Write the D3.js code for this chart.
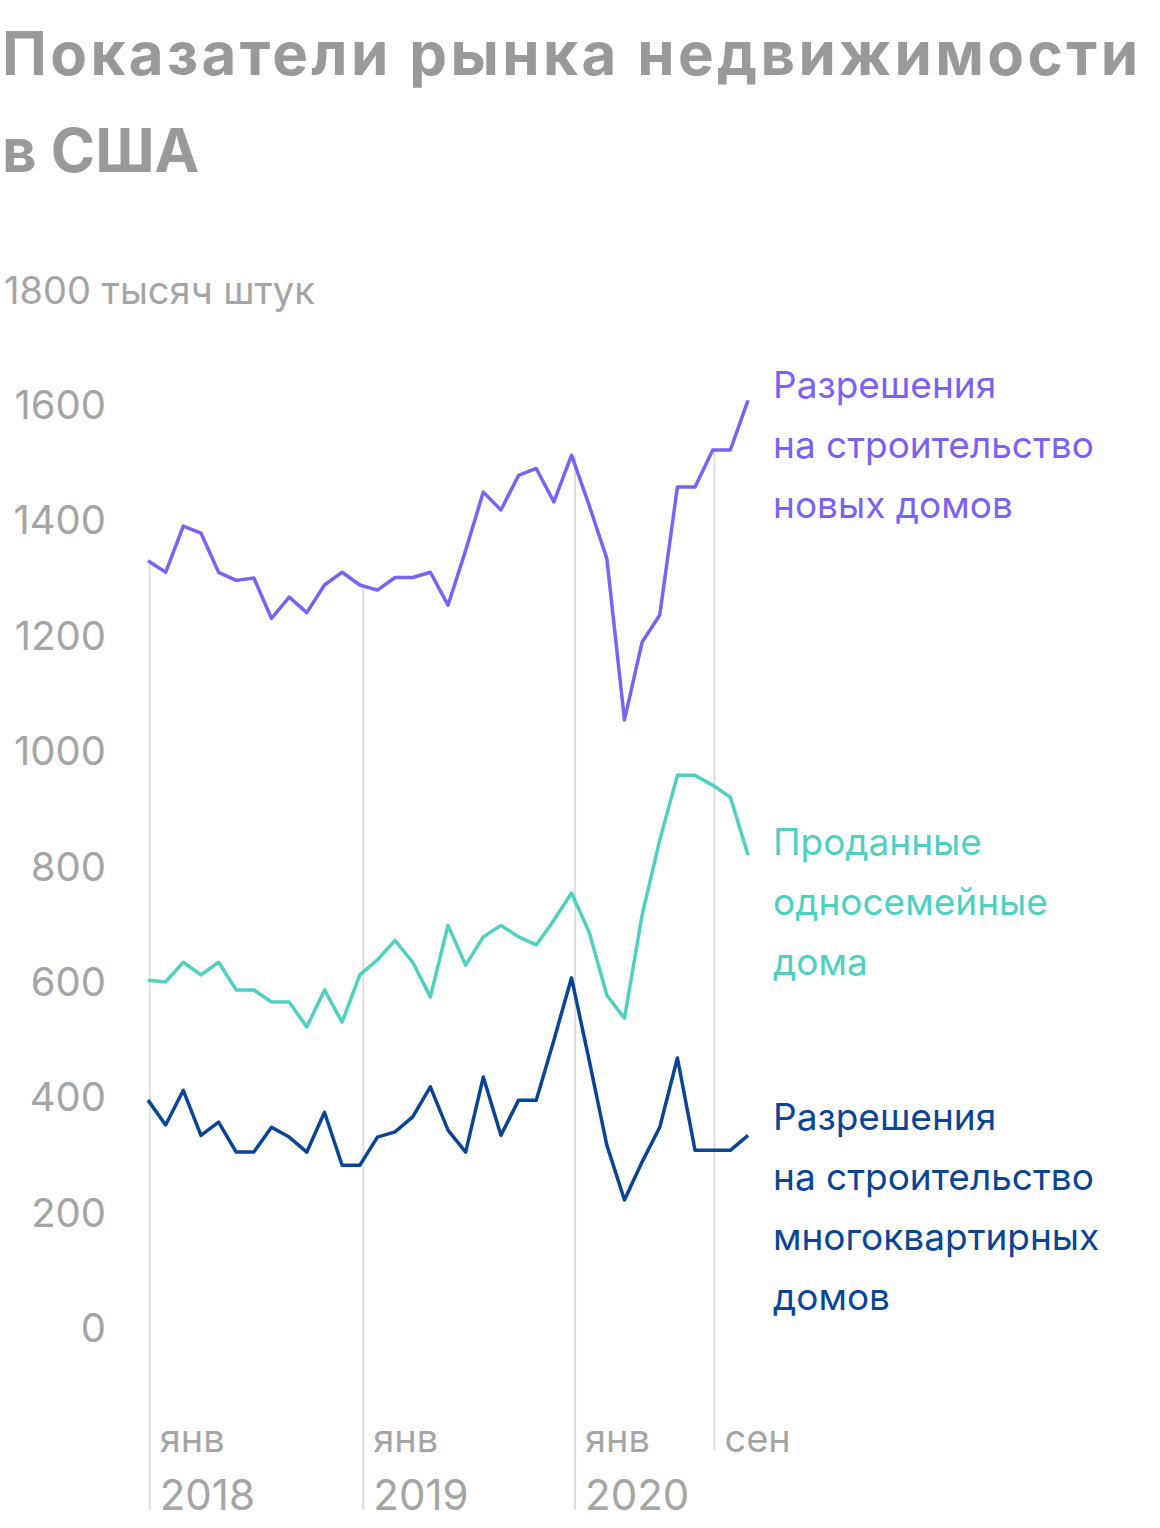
<!DOCTYPE html>
<html><head><meta charset="utf-8">
<script src="https://cdn.jsdelivr.net/npm/d3@7"></script>
<style>body{margin:0;background:#fff;font-family:Inter,Roboto,"Noto Sans",sans-serif}</style>
</head><body>
<svg id="chart" width="1160" height="1528"></svg>
<script>
// monthly values, Jan 2018 .. Nov 2020, thousand units
const newHomePermits = [1330,1310,1390,1378,1310,1296,1300,1230,1267,1240,1288,1310,1288,1279,1301,1301,1310,1253,1348,1449,1418,1478,1490,1432,1513,1426,1334,1054,1189,1236,1458,1458,1522,1522,1608];
const singleFamilySold = [603,600,634,612,634,586,586,565,565,522,586,530,612,638,672,634,574,698,629,678,698,678,664,707,754,686,577,537,716,846,958,958,941,920,820];
const multiFamilyPermits = [395,352,412,334,357,305,305,348,331,305,374,282,282,331,340,366,418,343,305,435,334,395,395,499,607,464,317,222,288,348,468,308,308,308,334];
const yTicks = [0,200,400,600,800,1000,1200,1400,1600];
const xMarks = [{i:0.1,top:"янв",bottom:"2018"},{i:12.2,top:"янв",bottom:"2019"},{i:24.2,top:"янв",bottom:"2020"},{i:32.1,top:"сен",bottom:""}];
const series = [
  {values:newHomePermits,color:"#7b62f4",label:["Разрешения","на строительство","новых домов"],ly:398},
  {values:singleFamilySold,color:"#4fd0c1",label:["Проданные","односемейные","дома"],ly:855},
  {values:multiFamilyPermits,color:"#0a4595",label:["Разрешения","на строительство","многоквартирных","домов"],ly:1130}
];

const svg = d3.select("#chart");
const x = d3.scaleLinear().domain([0,34]).range([148,748]);
const y = d3.scaleLinear().domain([0,1600]).range([1328,405]);

svg.append("text").attr("x",2).attr("y",75).attr("font-size",60).attr("font-weight",700)
  .attr("fill","#999").attr("textLength",1136).text("Показатели рынка недвижимости");
svg.append("text").attr("x",2).attr("y",172).attr("font-size",60).attr("font-weight",700)
  .attr("fill","#999").text("в США");
svg.append("text").attr("x",4).attr("y",304).attr("font-size",38).attr("fill","#a5a5a5").text("1800 тысяч штук");

svg.selectAll(".yt").data(yTicks).join("text").attr("class","yt")
  .attr("x",106).attr("y",d=>y(d)+14).attr("text-anchor","end")
  .attr("font-size",40).attr("fill","#a5a5a5").text(d=>d);

const g = svg.selectAll(".xm").data(xMarks).join("g").attr("class","xm");
g.append("line").attr("x1",d=>x(d.i)).attr("x2",d=>x(d.i))
  .attr("y1",d=>y(series[0].values[Math.round(d.i)])).attr("y2",d=>d.bottom?1510:1450)
  .attr("stroke","#ddd").attr("stroke-width",2);
g.append("text").attr("x",d=>x(d.i)+10).attr("y",1452).attr("font-size",38).attr("fill","#a5a5a5").text(d=>d.top);
g.append("text").attr("x",d=>x(d.i)+10).attr("y",1510).attr("font-size",42).attr("fill","#a5a5a5").text(d=>d.bottom);

const line = d3.line().x((d,i)=>x(i)).y(d=>y(d));
series.forEach(s=>{
  svg.append("path").datum(s.values).attr("d",line).attr("fill","none")
    .attr("stroke",s.color).attr("stroke-width",3.5).attr("stroke-linejoin","round");
  const t = svg.append("text").attr("x",773).attr("y",s.ly).attr("font-size",37).attr("fill",s.color);
  s.label.forEach((l,k)=>t.append("tspan").attr("x",773).attr("dy",k?60:0).text(l));
});
</script>
</body></html>
